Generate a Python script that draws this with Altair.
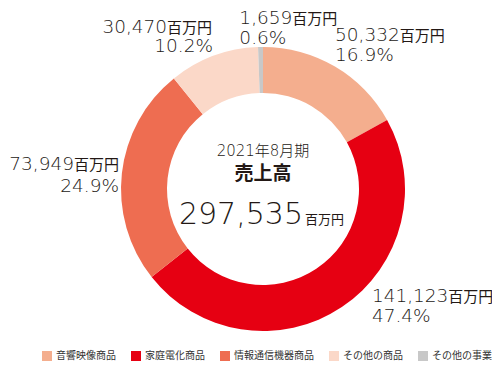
import math
import altair as alt
import pandas as pd

# ---------------- data ----------------
categories = ["音響映像商品", "家庭電化商品", "情報通信機器商品", "その他の商品", "その他の事業"]
values = [50332, 141123, 73949, 30470, 1659]
percents = ["16.9%", "47.4%", "24.9%", "10.2%", "0.6%"]
colors = ["#F4AE8E", "#E60012", "#EE6D51", "#FBD8C8", "#C8C8C8"]
period_label = "2021年8月期"
title_label = "売上高"
total_label = "297,535"
unit_label = "百万円"

df = pd.DataFrame({
    "category": categories,
    "value": values,
    "pct": percents,
    "order": list(range(len(categories))),
})
df["num"] = df["value"].map(lambda v: f"{v:,}")
df["unit"] = unit_label
total = float(sum(values))
df["mid"] = df["value"].cumsum() - df["value"] / 2

# ---------------- layout / style ----------------
W = H = 290
PAD_L, PAD_T, PAD_R, PAD_B = 110, 36, 84, 30
CX, CY = W / 2, H / 2
R_OUT, R_IN = 142, 96
LAB_R = 150

NUM_FONT = "DejaVu Sans"
CJK_FONT = "Noto Sans CJK JP"
MIX_FONT = "DejaVu Sans, Noto Sans CJK JP"
TXT = "#231815"
NUM_FS, UNIT_FS, PCT_FS = 18.5, 15, 18.5
NUM_W = 200


def num_width(s, fs):
    return fs * sum(0.318 if c in ",." else 0.636 for c in s)


UNIT_W = 3 * UNIT_FS

# per-label offsets from polar anchor: align, dx, dy (number line), dy2 (percent line), pdx (percent dx)
label_layout = {
    "音響映像商品": dict(align="left", dx=-4, dy=-18.6, dy2=1.4, pdx=-4),
    "家庭電化商品": dict(align="left", dx=25.6, dy=-11.7, dy2=8.3, pdx=25.6),
    "情報通信機器商品": dict(align="right", dx=5.1, dy=-2.5, dy2=20.0, pdx=5.1),
    "その他の商品": dict(align="right", dx=1.5, dy=-15.5, dy2=3.5, pdx=2.5),
    "その他の事業": dict(align="left", dx=-21, dy=-15.5, dy2=4.5, pdx=-21),
}

base = alt.Chart(df)

arcs = base.mark_arc(innerRadius=R_IN, outerRadius=R_OUT).encode(
    theta=alt.Theta("value:Q", stack=True),
    order=alt.Order("order:Q"),
    color=alt.Color(
        "category:N",
        scale=alt.Scale(domain=categories, range=colors),
        sort=categories,
        legend=alt.Legend(
            title=None,
            orient="none",
            legendX=-76,
            legendY=307,
            direction="horizontal",
            symbolType="square",
            symbolSize=100,
            symbolStrokeWidth=0,
            symbolOpacity=1,
            labelFont=CJK_FONT,
            labelFontSize=10,
            labelColor="#333333",
            labelOffset=4,
            columnPadding=15,
            padding=0,
        ),
    ),
)

theta_lab = alt.Theta(
    "mid:Q", stack=None,
    scale=alt.Scale(domain=[0, total], range=[0, 2 * math.pi]),
)

layers = [arcs]
for cat, num in zip(categories, df["num"]):
    lay = label_layout[cat]
    sub = base.transform_filter(alt.datum.category == cat)
    common = dict(radius=LAB_R, baseline="alphabetic", color=TXT, align=lay["align"])
    if lay["align"] == "left":
        num_dx = lay["dx"]
        unit_dx = lay["dx"] + num_width(num, NUM_FS)
    else:
        unit_dx = lay["dx"]
        num_dx = lay["dx"] - UNIT_W
    layers.append(sub.mark_text(font=NUM_FONT, fontSize=NUM_FS, fontWeight=NUM_W,
                                dx=num_dx, dy=lay["dy"], **common)
                  .encode(theta=theta_lab, text="num:N"))
    layers.append(sub.mark_text(font=CJK_FONT, fontSize=UNIT_FS,
                                dx=unit_dx, dy=lay["dy"], **common)
                  .encode(theta=theta_lab, text="unit:N"))
    layers.append(sub.mark_text(font=NUM_FONT, fontSize=PCT_FS, fontWeight=NUM_W,
                                dx=lay["pdx"], dy=lay["dy2"], **common)
                  .encode(theta=theta_lab, text="pct:N"))

center_df = pd.DataFrame({
    "period": [period_label], "title": [title_label],
    "total": [total_label], "unit": [unit_label],
})
cbase = alt.Chart(center_df)
layers.append(cbase.mark_text(font=MIX_FONT, fontSize=15, fontWeight=NUM_W, color=TXT,
                              align="center", baseline="alphabetic")
              .encode(x=alt.value(CX), y=alt.value(CY - 33), text="period:N"))
layers.append(cbase.mark_text(font=CJK_FONT, fontSize=19, fontWeight="bold", color=TXT,
                              align="center", baseline="alphabetic")
              .encode(x=alt.value(CX), y=alt.value(CY - 9), text="title:N"))
layers.append(cbase.mark_text(font=NUM_FONT, fontSize=30, fontWeight=NUM_W, color=TXT,
                              align="right", baseline="alphabetic")
              .encode(x=alt.value(CX + 40), y=alt.value(CY + 35), text="total:N"))
layers.append(cbase.mark_text(font=CJK_FONT, fontSize=13, color=TXT,
                              align="left", baseline="alphabetic")
              .encode(x=alt.value(CX + 42), y=alt.value(CY + 35), text="unit:N"))

chart = alt.layer(*layers).resolve_scale(theta="independent").properties(
    width=W,
    height=H,
    padding={"left": PAD_L, "top": PAD_T, "right": PAD_R, "bottom": PAD_B},
    autosize=alt.AutoSizeParams(type="none"),
).configure_view(stroke=None)

chart.save("out.html", embed_options={"renderer": "svg", "actions": False})
